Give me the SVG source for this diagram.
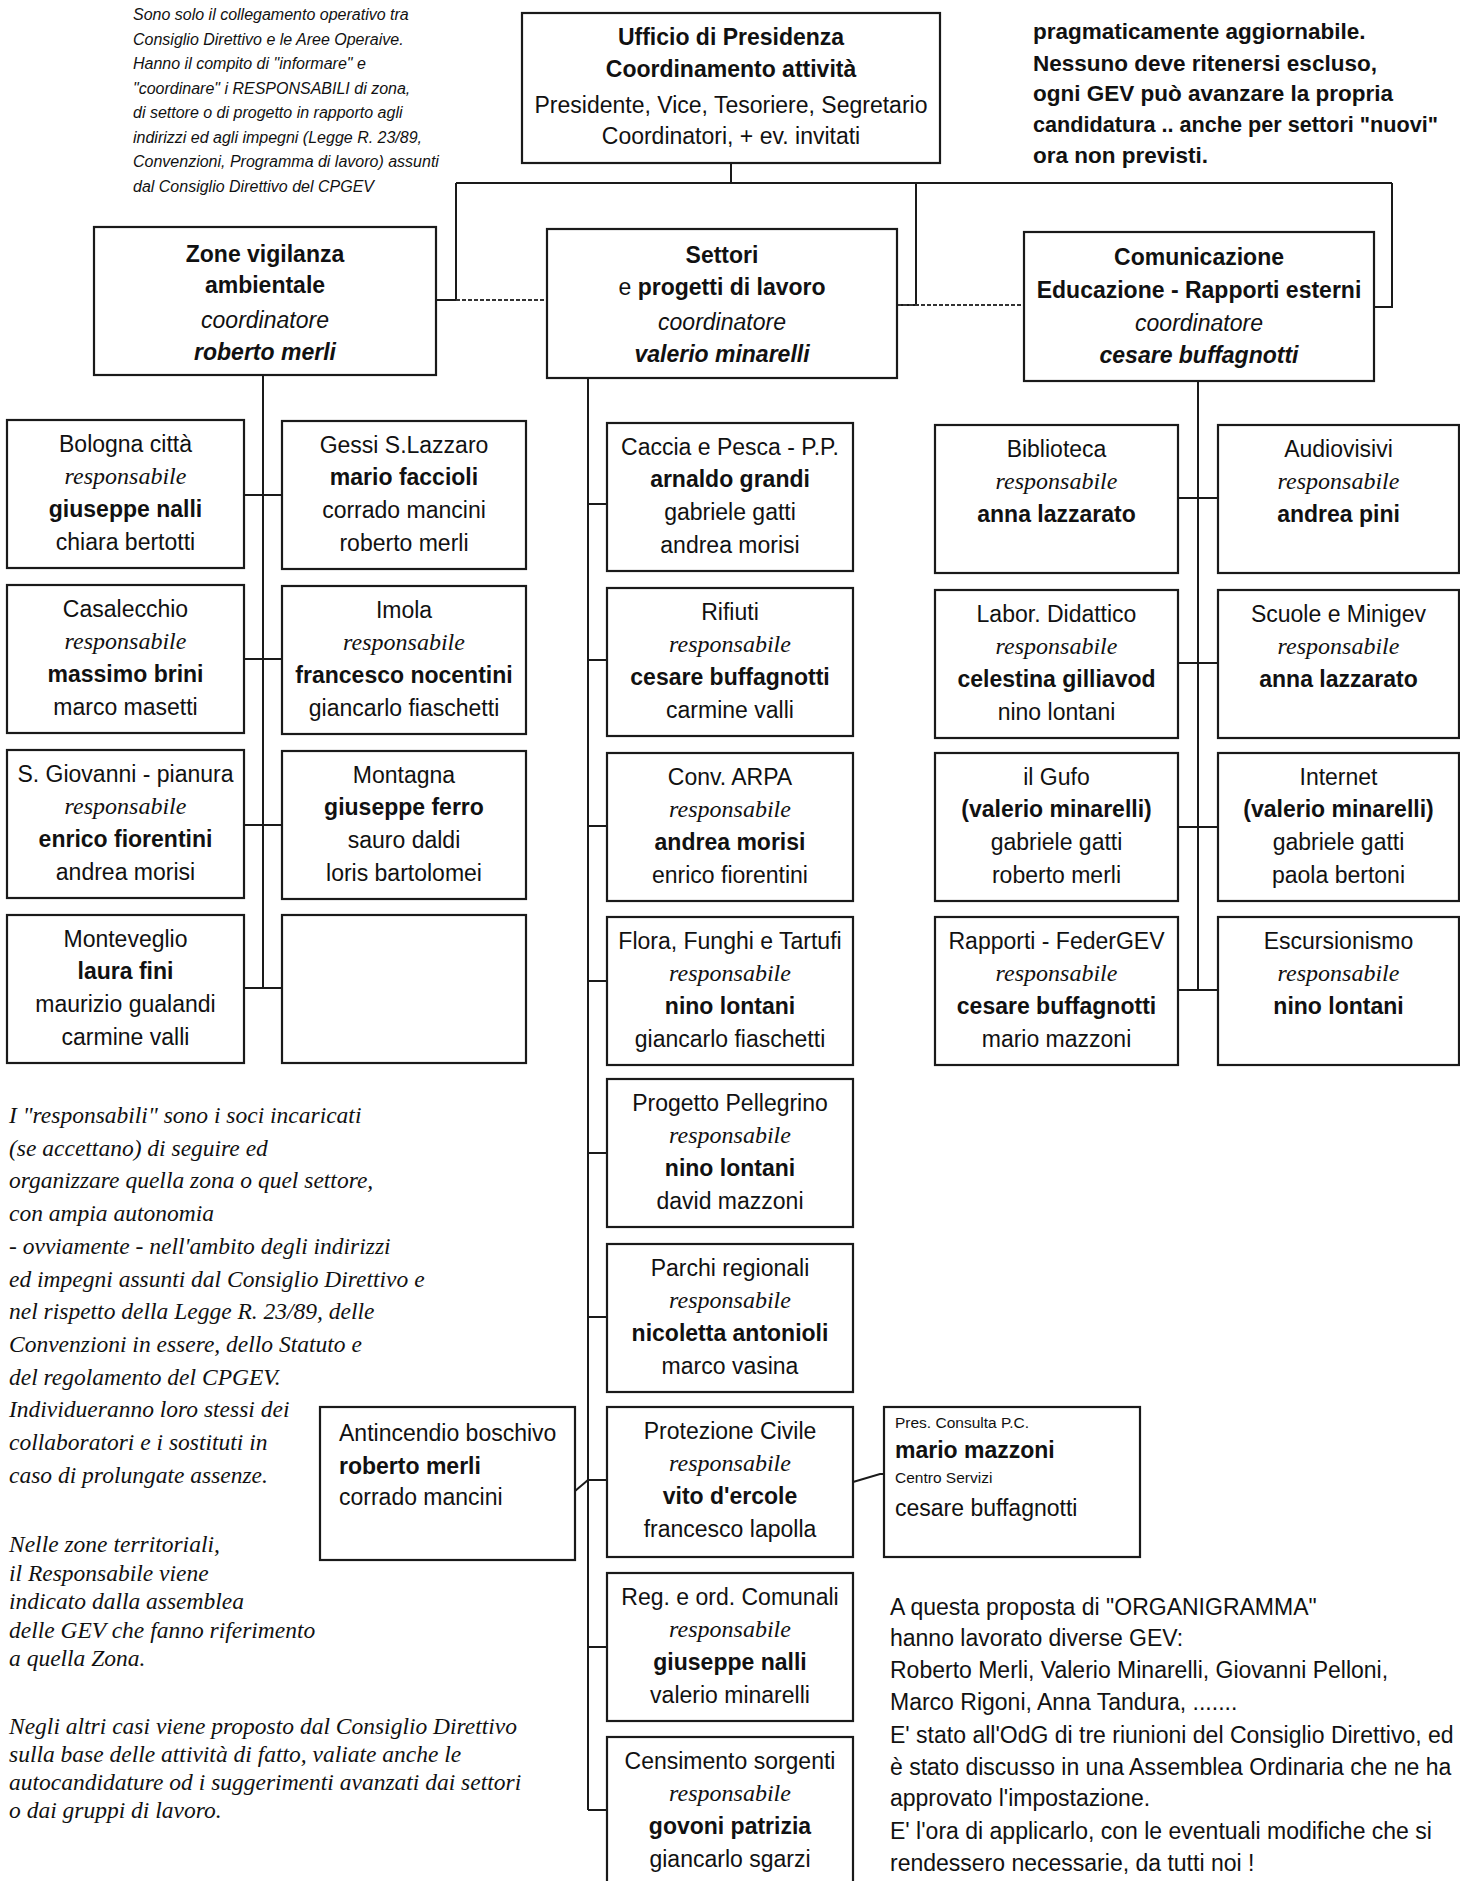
<svg xmlns="http://www.w3.org/2000/svg" width="1460" height="1881" viewBox="0 0 1460 1881">
<style>
  .box { fill: #ffffff; stroke: #1a1a1a; stroke-width: 2.2; }
  .ln { stroke: #1a1a1a; stroke-width: 2; fill: none; }
  .dash { stroke: #333333; stroke-width: 2; stroke-dasharray: 4 2; fill: none; }
  text { font-family: "Liberation Sans", Arial, sans-serif; fill: #111111; }
  .t { font-size: 23px; text-anchor: middle; }
  .tl { font-size: 23px; }
  .b { font-weight: bold; }
  .i { font-style: italic; }
  .r { font-family: "Liberation Serif", "Times New Roman", serif; font-style: italic; font-size: 24px; text-anchor: middle; }
  .note { font-size: 16px; font-style: italic; }
  .serifnote { font-family: "Liberation Serif", "Times New Roman", serif; font-style: italic; font-size: 23.5px; }
  .boldnote { font-size: 22.5px; font-weight: bold; }
  .small { font-size: 15.5px; }
</style>
<rect x="0" y="0" width="1460" height="1881" fill="#ffffff"/>

<g id="connectors">
  <line class="ln" x1="731" y1="163" x2="731" y2="183"/>
  <line class="ln" x1="456" y1="183" x2="1392" y2="183"/>
  <polyline class="ln" points="456,183 456,300 436,300"/>
  <line class="dash" x1="456" y1="300" x2="547" y2="300"/>
  <polyline class="ln" points="916,183 916,305 897,305"/>
  <line class="dash" x1="897" y1="305" x2="1024" y2="305"/>
  <polyline class="ln" points="1392,183 1392,307 1374,307"/>
  <line class="ln" x1="263" y1="375" x2="263" y2="988"/>
  <line class="ln" x1="244" y1="495" x2="282" y2="495"/>
  <line class="ln" x1="244" y1="659" x2="282" y2="659"/>
  <line class="ln" x1="244" y1="825" x2="282" y2="825"/>
  <line class="ln" x1="244" y1="988" x2="282" y2="988"/>
  <line class="ln" x1="588" y1="378" x2="588" y2="1810"/>
  <line class="ln" x1="588" y1="504" x2="607" y2="504"/>
  <line class="ln" x1="588" y1="660" x2="607" y2="660"/>
  <line class="ln" x1="588" y1="826" x2="607" y2="826"/>
  <line class="ln" x1="588" y1="981" x2="607" y2="981"/>
  <line class="ln" x1="588" y1="1153" x2="607" y2="1153"/>
  <line class="ln" x1="588" y1="1317" x2="607" y2="1317"/>
  <line class="ln" x1="588" y1="1480" x2="607" y2="1480"/>
  <line class="ln" x1="588" y1="1647" x2="607" y2="1647"/>
  <line class="ln" x1="588" y1="1810" x2="607" y2="1810"/>
  <polyline class="ln" points="575,1491 588,1480"/>
  <polyline class="ln" points="853,1482 880,1474 884,1474"/>
  <line class="ln" x1="1198" y1="381" x2="1198" y2="990"/>
  <line class="ln" x1="1178" y1="498" x2="1218" y2="498"/>
  <line class="ln" x1="1178" y1="663" x2="1218" y2="663"/>
  <line class="ln" x1="1178" y1="827" x2="1218" y2="827"/>
  <line class="ln" x1="1178" y1="990" x2="1218" y2="990"/>
</g>

<g id="note-top-left">
  <text class="note" x="133" y="20">Sono solo il collegamento operativo tra</text>
  <text class="note" x="133" y="44.5">Consiglio Direttivo e le Aree Operaive.</text>
  <text class="note" x="133" y="69">Hanno il compito di "informare" e</text>
  <text class="note" x="133" y="93.5">"coordinare" i RESPONSABILI di zona,</text>
  <text class="note" x="133" y="118">di settore o di progetto in rapporto agli</text>
  <text class="note" x="133" y="142.5">indirizzi ed agli impegni (Legge R. 23/89,</text>
  <text class="note" x="133" y="167">Convenzioni, Programma di lavoro) assunti</text>
  <text class="note" x="133" y="191.5">dal Consiglio Direttivo del CPGEV</text>
</g>

<g id="note-top-right">
  <text class="boldnote" x="1033" y="39">pragmaticamente aggiornabile.</text>
  <text class="boldnote" x="1033" y="71">Nessuno deve ritenersi escluso,</text>
  <text class="boldnote" x="1033" y="101">ogni GEV può avanzare la propria</text>
  <text class="boldnote" x="1033" y="132" textLength="405" lengthAdjust="spacingAndGlyphs">candidatura .. anche per settori "nuovi"</text>
  <text class="boldnote" x="1033" y="163">ora non previsti.</text>
</g>

<g id="ufficio">
  <rect class="box" x="522" y="13" width="418" height="150"/>
  <text class="t b" x="731" y="45">Ufficio di Presidenza</text>
  <text class="t b" x="731" y="77">Coordinamento attività</text>
  <text class="t" x="731" y="113">Presidente, Vice, Tesoriere, Segretario</text>
  <text class="t" x="731" y="144">Coordinatori, + ev. invitati</text>
</g>

<g id="zone">
  <rect class="box" x="94" y="227" width="342" height="148"/>
  <text class="t b" x="265" y="262">Zone vigilanza</text>
  <text class="t b" x="265" y="293">ambientale</text>
  <text class="t i" x="265" y="328">coordinatore</text>
  <text class="t b i" x="265" y="360">roberto merli</text>
</g>

<g id="settori">
  <rect class="box" x="547" y="229" width="350" height="149"/>
  <text class="t b" x="722" y="263">Settori</text>
  <text class="t" x="722" y="295">e <tspan class="b">progetti di lavoro</tspan></text>
  <text class="t i" x="722" y="330">coordinatore</text>
  <text class="t b i" x="722" y="362">valerio minarelli</text>
</g>

<g id="comunicazione">
  <rect class="box" x="1024" y="232" width="350" height="149"/>
  <text class="t b" x="1199" y="265">Comunicazione</text>
  <text class="t b" x="1199" y="298">Educazione - Rapporti esterni</text>
  <text class="t i" x="1199" y="331">coordinatore</text>
  <text class="t b i" x="1199" y="363">cesare buffagnotti</text>
</g>

<g id="bologna">
  <rect class="box" x="7" y="420" width="237" height="148"/>
  <text class="t" x="125.5" y="452">Bologna città</text>
  <text class="r" x="125.5" y="484">responsabile</text>
  <text class="t b" x="125.5" y="517">giuseppe nalli</text>
  <text class="t" x="125.5" y="550">chiara bertotti</text>
</g>
<g id="casalecchio">
  <rect class="box" x="7" y="585" width="237" height="148"/>
  <text class="t" x="125.5" y="617">Casalecchio</text>
  <text class="r" x="125.5" y="649">responsabile</text>
  <text class="t b" x="125.5" y="682">massimo brini</text>
  <text class="t" x="125.5" y="715">marco masetti</text>
</g>
<g id="sgiovanni">
  <rect class="box" x="7" y="750" width="237" height="148"/>
  <text class="t" x="125.5" y="782">S. Giovanni - pianura</text>
  <text class="r" x="125.5" y="814">responsabile</text>
  <text class="t b" x="125.5" y="847">enrico fiorentini</text>
  <text class="t" x="125.5" y="880">andrea morisi</text>
</g>
<g id="monteveglio">
  <rect class="box" x="7" y="915" width="237" height="148"/>
  <text class="t" x="125.5" y="947">Monteveglio</text>
  <text class="t b" x="125.5" y="979">laura fini</text>
  <text class="t" x="125.5" y="1012">maurizio gualandi</text>
  <text class="t" x="125.5" y="1045">carmine valli</text>
</g>

<g id="gessi">
  <rect class="box" x="282" y="421" width="244" height="148"/>
  <text class="t" x="404" y="453">Gessi S.Lazzaro</text>
  <text class="t b" x="404" y="485">mario faccioli</text>
  <text class="t" x="404" y="518">corrado mancini</text>
  <text class="t" x="404" y="551">roberto merli</text>
</g>
<g id="imola">
  <rect class="box" x="282" y="586" width="244" height="148"/>
  <text class="t" x="404" y="618">Imola</text>
  <text class="r" x="404" y="650">responsabile</text>
  <text class="t b" x="404" y="683">francesco nocentini</text>
  <text class="t" x="404" y="716">giancarlo fiaschetti</text>
</g>
<g id="montagna">
  <rect class="box" x="282" y="751" width="244" height="148"/>
  <text class="t" x="404" y="783">Montagna</text>
  <text class="t b" x="404" y="815">giuseppe ferro</text>
  <text class="t" x="404" y="848">sauro daldi</text>
  <text class="t" x="404" y="881">loris bartolomei</text>
</g>
<g id="zona-vuota">
  <rect class="box" x="282" y="915" width="244" height="148"/>
</g>

<g id="caccia">
  <rect class="box" x="607" y="423" width="246" height="148"/>
  <text class="t" x="730" y="455">Caccia e Pesca - P.P.</text>
  <text class="t b" x="730" y="487">arnaldo grandi</text>
  <text class="t" x="730" y="520">gabriele gatti</text>
  <text class="t" x="730" y="553">andrea morisi</text>
</g>
<g id="rifiuti">
  <rect class="box" x="607" y="588" width="246" height="148"/>
  <text class="t" x="730" y="620">Rifiuti</text>
  <text class="r" x="730" y="652">responsabile</text>
  <text class="t b" x="730" y="685">cesare buffagnotti</text>
  <text class="t" x="730" y="718">carmine valli</text>
</g>
<g id="arpa">
  <rect class="box" x="607" y="753" width="246" height="148"/>
  <text class="t" x="730" y="785">Conv. ARPA</text>
  <text class="r" x="730" y="817">responsabile</text>
  <text class="t b" x="730" y="850">andrea morisi</text>
  <text class="t" x="730" y="883">enrico fiorentini</text>
</g>
<g id="flora">
  <rect class="box" x="607" y="917" width="246" height="148"/>
  <text class="t" x="730" y="949">Flora, Funghi e Tartufi</text>
  <text class="r" x="730" y="981">responsabile</text>
  <text class="t b" x="730" y="1014">nino lontani</text>
  <text class="t" x="730" y="1047">giancarlo fiaschetti</text>
</g>
<g id="pellegrino">
  <rect class="box" x="607" y="1079" width="246" height="148"/>
  <text class="t" x="730" y="1111">Progetto Pellegrino</text>
  <text class="r" x="730" y="1143">responsabile</text>
  <text class="t b" x="730" y="1176">nino lontani</text>
  <text class="t" x="730" y="1209">david mazzoni</text>
</g>
<g id="parchi">
  <rect class="box" x="607" y="1244" width="246" height="148"/>
  <text class="t" x="730" y="1276">Parchi regionali</text>
  <text class="r" x="730" y="1308">responsabile</text>
  <text class="t b" x="730" y="1341">nicoletta antonioli</text>
  <text class="t" x="730" y="1374">marco vasina</text>
</g>
<g id="protezione">
  <rect class="box" x="607" y="1407" width="246" height="150"/>
  <text class="t" x="730" y="1439">Protezione Civile</text>
  <text class="r" x="730" y="1471">responsabile</text>
  <text class="t b" x="730" y="1504">vito d'ercole</text>
  <text class="t" x="730" y="1537">francesco lapolla</text>
</g>
<g id="regolamenti">
  <rect class="box" x="607" y="1573" width="246" height="148"/>
  <text class="t" x="730" y="1605">Reg. e ord. Comunali</text>
  <text class="r" x="730" y="1637">responsabile</text>
  <text class="t b" x="730" y="1670">giuseppe nalli</text>
  <text class="t" x="730" y="1703">valerio minarelli</text>
</g>
<g id="censimento">
  <rect class="box" x="607" y="1737" width="246" height="160"/>
  <text class="t" x="730" y="1769">Censimento sorgenti</text>
  <text class="r" x="730" y="1801">responsabile</text>
  <text class="t b" x="730" y="1834">govoni patrizia</text>
  <text class="t" x="730" y="1867">giancarlo sgarzi</text>
</g>

<g id="antincendio">
  <rect class="box" x="320" y="1407" width="255" height="153"/>
  <text class="tl" x="339" y="1441">Antincendio boschivo</text>
  <text class="tl b" x="339" y="1474">roberto merli</text>
  <text class="tl" x="339" y="1505">corrado mancini</text>
</g>

<g id="consulta">
  <rect class="box" x="884" y="1407" width="256" height="150"/>
  <text class="small" x="895" y="1428">Pres. Consulta P.C.</text>
  <text class="tl b" x="895" y="1458">mario mazzoni</text>
  <text class="small" x="895" y="1483">Centro Servizi</text>
  <text class="tl" x="895" y="1516">cesare buffagnotti</text>
</g>

<g id="biblioteca">
  <rect class="box" x="935" y="425" width="243" height="148"/>
  <text class="t" x="1056.5" y="457">Biblioteca</text>
  <text class="r" x="1056.5" y="489">responsabile</text>
  <text class="t b" x="1056.5" y="522">anna lazzarato</text>
</g>
<g id="labor">
  <rect class="box" x="935" y="590" width="243" height="148"/>
  <text class="t" x="1056.5" y="622">Labor. Didattico</text>
  <text class="r" x="1056.5" y="654">responsabile</text>
  <text class="t b" x="1056.5" y="687">celestina gilliavod</text>
  <text class="t" x="1056.5" y="720">nino lontani</text>
</g>
<g id="gufo">
  <rect class="box" x="935" y="753" width="243" height="148"/>
  <text class="t" x="1056.5" y="785">il Gufo</text>
  <text class="t b" x="1056.5" y="817">(valerio minarelli)</text>
  <text class="t" x="1056.5" y="850">gabriele gatti</text>
  <text class="t" x="1056.5" y="883">roberto merli</text>
</g>
<g id="federgev">
  <rect class="box" x="935" y="917" width="243" height="148"/>
  <text class="t" x="1056.5" y="949">Rapporti - FederGEV</text>
  <text class="r" x="1056.5" y="981">responsabile</text>
  <text class="t b" x="1056.5" y="1014">cesare buffagnotti</text>
  <text class="t" x="1056.5" y="1047">mario mazzoni</text>
</g>
<g id="audiovisivi">
  <rect class="box" x="1218" y="425" width="241" height="148"/>
  <text class="t" x="1338.5" y="457">Audiovisivi</text>
  <text class="r" x="1338.5" y="489">responsabile</text>
  <text class="t b" x="1338.5" y="522">andrea pini</text>
</g>
<g id="scuole">
  <rect class="box" x="1218" y="590" width="241" height="148"/>
  <text class="t" x="1338.5" y="622">Scuole e Minigev</text>
  <text class="r" x="1338.5" y="654">responsabile</text>
  <text class="t b" x="1338.5" y="687">anna lazzarato</text>
</g>
<g id="internet">
  <rect class="box" x="1218" y="753" width="241" height="148"/>
  <text class="t" x="1338.5" y="785">Internet</text>
  <text class="t b" x="1338.5" y="817">(valerio minarelli)</text>
  <text class="t" x="1338.5" y="850">gabriele gatti</text>
  <text class="t" x="1338.5" y="883">paola bertoni</text>
</g>
<g id="escursionismo">
  <rect class="box" x="1218" y="917" width="241" height="148"/>
  <text class="t" x="1338.5" y="949">Escursionismo</text>
  <text class="r" x="1338.5" y="981">responsabile</text>
  <text class="t b" x="1338.5" y="1014">nino lontani</text>
</g>

<g id="note-left">
  <text class="serifnote" x="9" y="1123">I "responsabili" sono i soci incaricati</text>
  <text class="serifnote" x="9" y="1155.7">(se accettano) di seguire ed</text>
  <text class="serifnote" x="9" y="1188.4">organizzare quella zona o quel settore,</text>
  <text class="serifnote" x="9" y="1221.1">con ampia autonomia</text>
  <text class="serifnote" x="9" y="1253.8">- ovviamente - nell'ambito degli indirizzi</text>
  <text class="serifnote" x="9" y="1286.5">ed impegni assunti dal Consiglio Direttivo e</text>
  <text class="serifnote" x="9" y="1319.2">nel rispetto della Legge R. 23/89, delle</text>
  <text class="serifnote" x="9" y="1351.9">Convenzioni in essere, dello Statuto e</text>
  <text class="serifnote" x="9" y="1384.6">del regolamento del CPGEV.</text>
  <text class="serifnote" x="9" y="1417.3">Individueranno loro stessi dei</text>
  <text class="serifnote" x="9" y="1450">collaboratori e i sostituti in</text>
  <text class="serifnote" x="9" y="1482.7">caso di prolungate assenze.</text>
  <text class="serifnote" x="9" y="1552">Nelle zone territoriali,</text>
  <text class="serifnote" x="9" y="1580.5">il Responsabile viene</text>
  <text class="serifnote" x="9" y="1609">indicato dalla assemblea</text>
  <text class="serifnote" x="9" y="1637.5">delle GEV che fanno riferimento</text>
  <text class="serifnote" x="9" y="1666">a quella Zona.</text>
  <text class="serifnote" x="9" y="1734">Negli altri casi viene proposto dal Consiglio Direttivo</text>
  <text class="serifnote" x="9" y="1762">sulla base delle attività di fatto, valiate anche le</text>
  <text class="serifnote" x="9" y="1790">autocandidature od i suggerimenti avanzati dai settori</text>
  <text class="serifnote" x="9" y="1818">o dai gruppi di lavoro.</text>
</g>

<g id="note-bottom-right">
  <text class="tl" x="890" y="1615">A questa proposta di "ORGANIGRAMMA"</text>
  <text class="tl" x="890" y="1646">hanno lavorato diverse GEV:</text>
  <text class="tl" x="890" y="1678">Roberto Merli, Valerio Minarelli, Giovanni Pelloni,</text>
  <text class="tl" x="890" y="1710">Marco Rigoni, Anna Tandura, .......</text>
  <text class="tl" x="890" y="1743">E' stato all'OdG di tre riunioni del Consiglio Direttivo, ed</text>
  <text class="tl" x="890" y="1775">è stato discusso in una Assemblea Ordinaria che ne ha</text>
  <text class="tl" x="890" y="1806">approvato l'impostazione.</text>
  <text class="tl" x="890" y="1839">E' l'ora di applicarlo, con le eventuali modifiche che si</text>
  <text class="tl" x="890" y="1871">rendessero necessarie, da tutti noi !</text>
</g>
</svg>
